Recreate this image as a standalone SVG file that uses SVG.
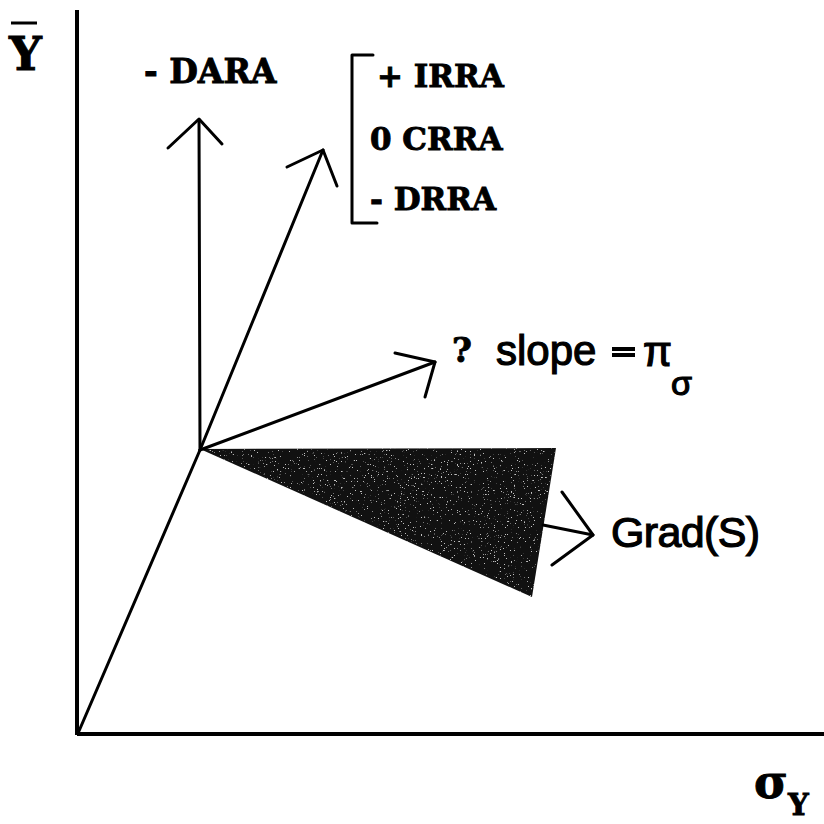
<svg xmlns="http://www.w3.org/2000/svg" width="824" height="824" viewBox="0 0 824 824">
<style>
.ln{stroke:#000;stroke-width:3;fill:none;stroke-linecap:round;stroke-linejoin:round}
.ax{stroke:#000;stroke-width:4;fill:none}
.sf{font-family:"DejaVu Serif","Liberation Serif",serif;font-weight:bold;fill:#000;stroke:#000;stroke-width:0.9}
.ss{font-family:"Liberation Sans",Arial,sans-serif;fill:#000;stroke:#000;stroke-width:1.2}
</style>
<defs>
<filter id="speck" x="0" y="0" width="1" height="1">
<feTurbulence type="fractalNoise" baseFrequency="0.7" numOctaves="2" seed="5"/>
<feColorMatrix type="matrix" values="0 0 0 0 1  0 0 0 0 1  0 0 0 0 1  14 0 0 0 -9.6"/>
<feComposite in2="SourceGraphic" operator="in"/>
</filter>
</defs>
<rect width="824" height="824" fill="#fff"/>
<g id="axes">
<line class="ax" x1="77" y1="10" x2="77" y2="735"/>
<line class="ax" x1="77" y1="734" x2="824" y2="734"/>
<text class="sf" x="9" y="70" font-size="46">Y</text>
<line x1="11" y1="23" x2="37" y2="23" stroke="#000" stroke-width="3"/>
<text class="sf" x="754" y="798" font-size="46">σ</text>
<text class="sf" x="788" y="815" font-size="29">Y</text>
</g>
<g id="grad-cone">
<polygon points="200,449 556,448 532,597" fill="#111"/>
<polygon points="200,449 556,448 532,597" fill="#fff" filter="url(#speck)" opacity="0.75"/>
</g>
<g id="connectors">
<line class="ln" x1="79" y1="731" x2="200" y2="450"/>
<polyline class="ln" points="200,450 199,120"/>
<polyline class="ln" points="168,148 199,119 222,144"/>
<polyline class="ln" points="200,450 323,150"/>
<polyline class="ln" points="287,167 323,150 337,186"/>
<polyline class="ln" points="200,450 435,362"/>
<polyline class="ln" points="395,353 435,362 425,397"/>
<polyline class="ln" points="543,525 593,535"/>
<polyline class="ln" points="562,492 593,535 552,565"/>
</g>
<g id="dara">
<text class="sf" x="144" y="83" font-size="33">- DARA</text>
</g>
<g id="rra-bracket">
<polyline class="ln" points="373,55 352,55 352,223 377,223"/>
<text class="sf" x="377" y="87" font-size="31">+ IRRA</text>
<text class="sf" x="370" y="150" font-size="31">0 CRRA</text>
<text class="sf" x="370" y="210" font-size="31">- DRRA</text>
</g>
<g id="slope-label">
<text class="sf" x="452" y="362" font-size="34">?</text>
<text class="ss" x="496" y="365" font-size="42">slope</text>
<rect x="612" y="347" width="23" height="4" fill="#000"/>
<rect x="612" y="353" width="23" height="4" fill="#000"/>
<text class="ss" x="643" y="366" font-size="42">π</text>
<text class="ss" x="671" y="395" font-size="34">σ</text>
</g>
<g id="grad-label">
<text class="ss" x="611" y="547" font-size="43" textLength="149">Grad(S)</text>
</g>
</svg>
